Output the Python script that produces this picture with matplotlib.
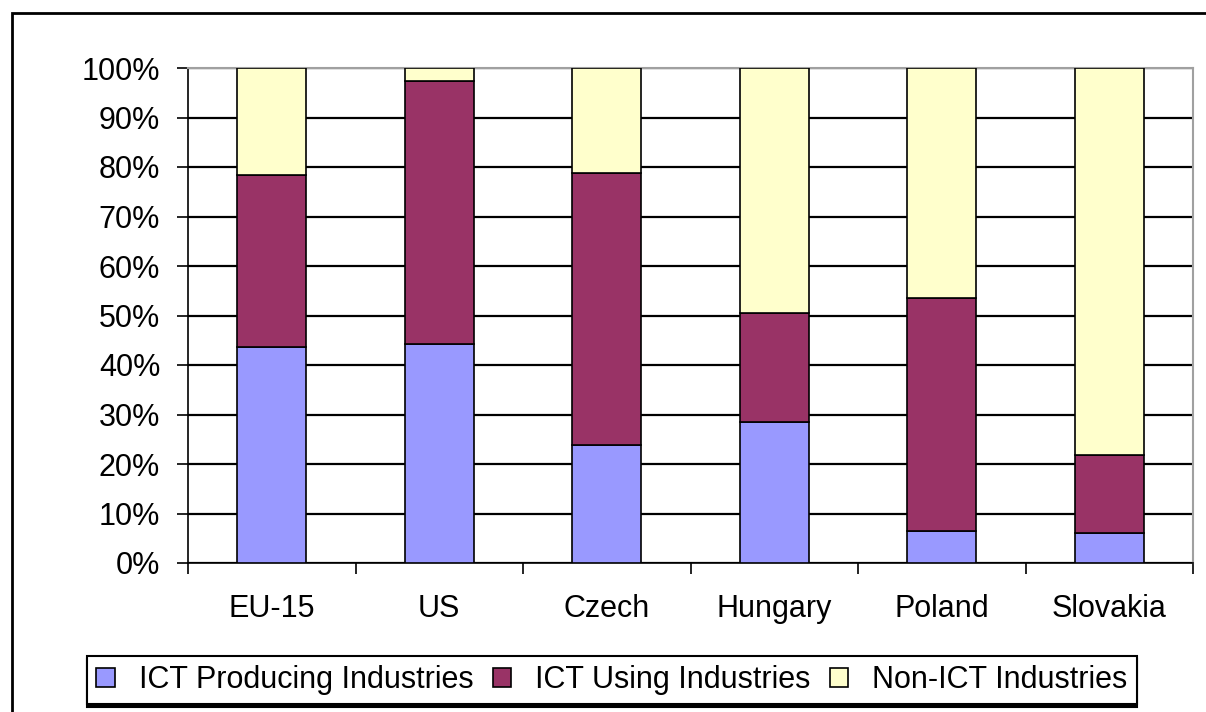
import matplotlib.pyplot as plt
from matplotlib.patches import Rectangle
from matplotlib.ticker import FixedLocator
import numpy as np

plt.rcParams['font.family'] = ['Liberation Sans', 'DejaVu Sans']

countries = ['EU-15', 'US', 'Czech', 'Hungary', 'Poland', 'Slovakia']
ict_producing = [43.6, 44.2, 23.8, 28.4, 6.5, 6.0]
ict_using = [34.8, 53.2, 54.9, 22.2, 47.0, 15.8]
non_ict = [21.6, 2.6, 21.3, 49.4, 46.5, 78.2]
series_names = ['ICT Producing Industries', 'ICT Using Industries', 'Non-ICT Industries']
colors = ['#9999ff', '#993366', '#ffffcc']

fig = plt.figure(figsize=(12.06, 7.12), dpi=100)
ax = fig.add_axes([188 / 1206, 149 / 712, 1005 / 1206, 495 / 712])

x = np.arange(len(countries))
bottom = np.zeros(len(countries))
for vals, name, col in zip([ict_producing, ict_using, non_ict], series_names, colors):
    ax.bar(x, vals, width=0.41, bottom=bottom, color=col, edgecolor='black',
           linewidth=1.2, label=name, zorder=3)
    bottom += np.array(vals)

ax.set_xlim(-0.5, len(countries) - 0.5)
ax.set_ylim(0, 100)
ax.set_yticks(np.arange(0, 101, 10))
ax.set_yticklabels([f'{v}%' for v in range(0, 101, 10)], fontsize=22)
ax.set_xticks(x)
ax.set_xticklabels(countries, fontsize=22)
ax.xaxis.set_minor_locator(FixedLocator(np.arange(-0.5, len(countries), 1.0)))
ax.tick_params(axis='x', which='major', length=0, pad=22)
ax.tick_params(axis='x', which='minor', length=8, width=1.2, direction='out', color='black')
ax.tick_params(axis='y', length=8, width=1.2, direction='out', pad=12)

ax.yaxis.grid(True, color='black', linewidth=1.6, zorder=0)
ax.set_axisbelow(True)
for side in ['top', 'right']:
    ax.spines[side].set_color('#a0a0a0')
    ax.spines[side].set_linewidth(1.5)
for side in ['left', 'bottom']:
    ax.spines[side].set_color('black')
    ax.spines[side].set_linewidth(1.2)

# outer chart frame
fig.patches.append(Rectangle((12 / 1206, -0.05), 1.2, (712 - 13) / 712 + 0.05,
                             transform=fig.transFigure, fill=False,
                             edgecolor='black', linewidth=2))

leg = fig.legend(loc='center', bbox_to_anchor=(612 / 1206, 1 - 680 / 712), ncol=3,
                 fontsize=22, frameon=True, fancybox=False, edgecolor='black',
                 handlelength=0.6, handleheight=0.6, handletextpad=0.8,
                 columnspacing=0.62, borderpad=0.3, borderaxespad=0,
                 shadow={'ox': 0, 'oy': -2, 'color': 'black', 'alpha': 1})
leg.get_frame().set_linewidth(1.5)

fig.savefig('out.png', dpi=100)
